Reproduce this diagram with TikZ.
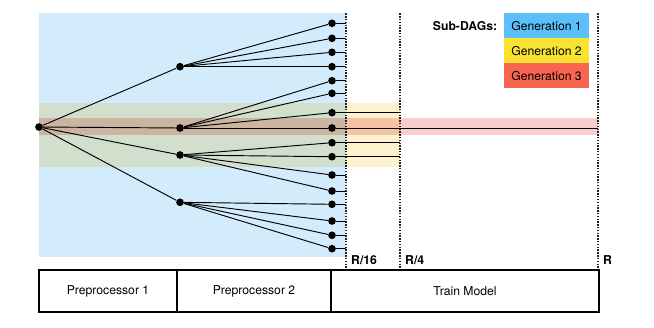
\documentclass[tikz,border=0pt]{standalone}
\usepackage{fontspec}
\setmainfont{TeX Gyre Heros}
\usepackage{tikz}
\usetikzlibrary{positioning,calc}
\definecolor{bleu}{HTML}{5BC0FA}
\definecolor{jaune}{HTML}{F9E232}
\definecolor{rouge}{HTML}{F96550}
\definecolor{bleuclair}{HTML}{D3ECFC}
\definecolor{jauneclair}{HTML}{FDF1CF}
\definecolor{rougeclair}{HTML}{F8D0CB}
\definecolor{gris}{HTML}{222222}
\begin{document}
\begin{tikzpicture}[x=0.03cm,y=-0.03cm,
  font=\fontsize{10.4}{12}\selectfont,
  pt/.style={circle,fill=black,inner sep=0pt,minimum size=0.23cm},
  lien/.style={line width=0.8pt},
  seuil/.style={dash pattern=on 1.2pt off 1.2pt,line width=0.9pt,gris},
  etape/.style={draw,line width=1.8pt,minimum height=1.25cm,inner sep=0pt,outer sep=0pt},
  gen/.style={minimum width=2.55cm,minimum height=0.75cm,inner sep=0pt,outer sep=0pt},
  bande/.style={blend mode=multiply}]
  \useasboundingbox (0,0) rectangle (654,327);
  % bandes des sous-DAGs
  \fill[bleuclair,bande] (39,13.3) rectangle (346,256.7);
  \fill[jauneclair,bande] (39,103.3) rectangle (400,167.3);
  \fill[rougeclair,bande] (39,118.3) rectangle (598,135);
  % seuils R/16, R/4, R
  \foreach \x/\n/\t in {346/s16/{R/16}, 400/s4/{R/4}, 598/s1/R}{
    \coordinate (\n) at (\x,13.3);
    \coordinate (\n b) at (\x,270);
    \draw[seuil] (\n) -- (\n b);
    \node[font=\fontsize{10.4}{12}\selectfont\bfseries,anchor=base west,inner sep=0pt] (lab\n) at ($(\n b)+(5,-6)$) {\t};}
  % arbre
  \node[pt] (r) at (39,127) {};
  \foreach \y/\n in {66.7/m1, 128/m2, 155/m3, 202.3/m4}{
    \node[pt] (\n) at (180,\y) {};
    \draw[lien] (r) -- (\n);}
  \foreach \y/\n/\p/\e in {23.3/l1/m1/s16, 38.3/l2/m1/s16, 52.3/l3/m1/s16, 66.7/l4/m1/s16,
                           80.7/l5/m2/s16, 93.3/l6/m2/s16, 112.7/l7/m2/s4, 128/l8/m2/s1,
                           142.7/l9/m3/s4, 156.7/l10/m3/s4, 175/l11/m3/s16, 191/l12/m3/s16,
                           204.3/l13/m4/s16, 221/l14/m4/s16, 235.3/l15/m4/s16, 248.7/l16/m4/s16}{
    \node[pt] (\n) at (332,\y) {};
    \draw[lien] (\p) -- (\n);
    \draw[lien] (\n) -- (\n -| \e);}
  % legende
  \node[gen,fill=bleu] (g1) at (546.5,25.8) {Generation 1};
  \node[gen,fill=jaune,below=0pt of g1] (g2) {Generation 2};
  \node[gen,fill=rouge,below=0pt of g2] (g3) {Generation 3};
  \node[font=\fontsize{10.4}{12}\selectfont\bfseries,inner sep=0pt,left=0.2cm of g1] (sub) {Sub-DAGs:};
  % etapes
  \node[etape,minimum width=4.14cm] (p1) at (108,291) {Preprocessor 1};
  \node[etape,minimum width=4.62cm,right=0pt of p1] (p2) {Preprocessor 2};
  \node[etape,minimum width=8.04cm,right=0pt of p2] (p3) {Train Model};
\end{tikzpicture}
\end{document}
